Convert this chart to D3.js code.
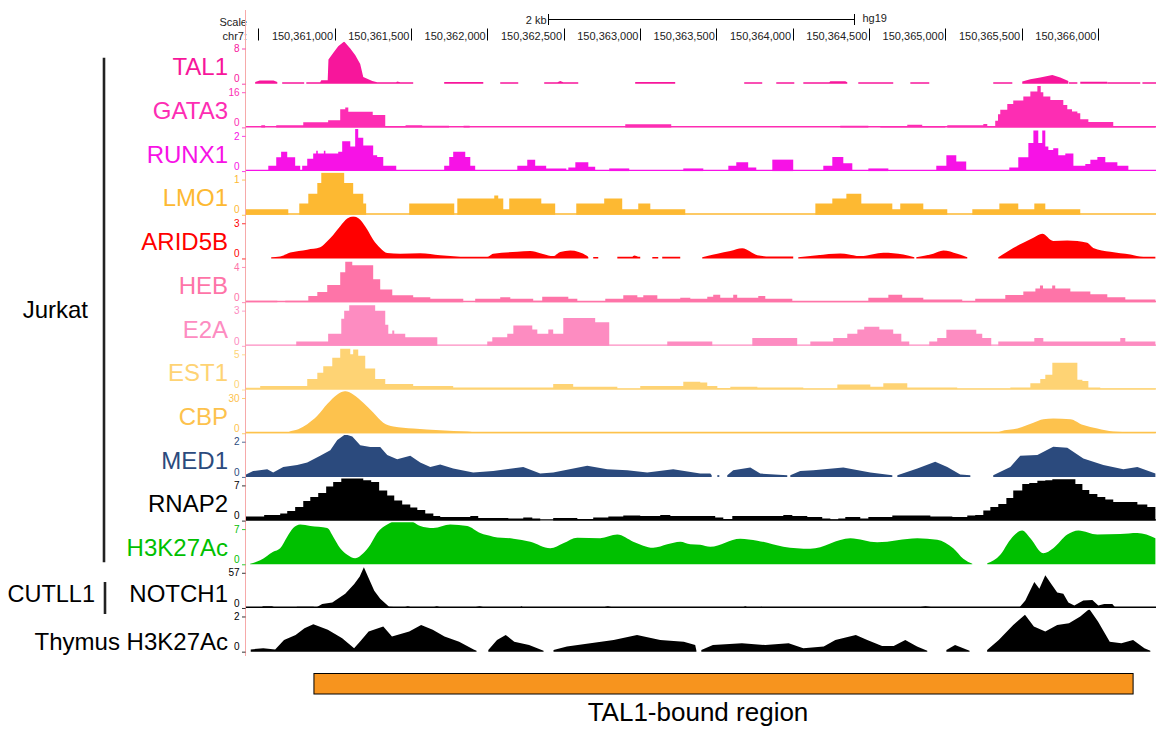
<!DOCTYPE html>
<html>
<head>
<meta charset="utf-8">
<script src="https://cdn.jsdelivr.net/npm/d3@7"></script>
<style>
  body { margin: 0; background: #fff; }
  svg { display: block; }
  text { font-family: "Liberation Sans", Arial, Helvetica, sans-serif; }
</style>
</head>
<body>
<svg id="chart" width="1160" height="731"></svg>
<script>
// ---- Genomic window (hg19, chr7) ----
const chrom = "chr7";
const assembly = "hg19";
const base = 150360000;                 // positions in the track arrays are offsets from here
const viewStart = 150360420, viewEnd = 150366380;
const rulerTicks = d3.range(150360500, 150366001, 500);
const scaleBar = [150362400, 150364400];
const scaleBarLabel = "2 kb";
const boundRegion = [150360865, 150366230];
const boundRegionLabel = "TAL1-bound region";

// ---- Track metadata ----
const trackNames = ["TAL1", "GATA3", "RUNX1", "LMO1", "ARID5B", "HEB", "E2A", "EST1", "CBP",
                    "MED1", "RNAP2", "H3K27Ac", "NOTCH1", "Thymus H3K27Ac"];
const trackColors = ["#f7169b", "#fd2db3", "#f712e6", "#fdb932", "#ff0000", "#fe74a8", "#fd8cc1",
                     "#fed374", "#fdc24d", "#2b4a7d", "#000000", "#00c000", "#000000", "#000000"];
const trackMax = [8, 16, 2, 1, 3, 4, 3, 5, 30, 2, 7, 7, 57, 2];
// how consecutive readings are joined: "step", "linear" or "smooth"
const trackShape = ["linear", "step", "step", "step", "smooth", "step", "step", "step", "smooth",
                    "linear", "step", "smooth", "linear", "linear"];
const trackBaseline = [false, true, true, true, false, true, true, true, true, false, true, false, true, false];
const cellLines = [
  { name: "Jurkat", first: 0, last: 11 },
  { name: "CUTLL1", first: 12, last: 12 }
];

// ---- Signal: segments of [offset bp, value] ----
const tal1Data = [
  [[480,0.4],[510,0.75],[600,0.75],[625,0.4]],
  [[657,0.35],[801,0.35]],
  [[815,0.35],[906,0.35],[913,0.8],[955,0.8],[960,5.5],[991,7],[1024,8.5],[1063,9.6],[1103,8],[1135,6.5],[1168,4.5],[1188,1.5],[1247,0.6],[1279,0.35],[1404,0.35],[1410,0.5],[1430,0.35],[1515,0.35]],
  [[1718,0.4],[1974,0.4]],
  [[2085,0.35],[2203,0.35]],
  [[2373,0.35],[2460,0.35],[2478,0.6],[2498,0.35],[2596,0.35]],
  [[2969,0.4],[3231,0.4]],
  [[3683,0.35],[3801,0.35]],
  [[3893,0.35],[4011,0.35]],
  [[4070,0.35],[4240,0.35],[4247,0.55],[4345,0.55],[4358,0.35]],
  [[4430,0.35],[4659,0.35]],
  [[4771,0.35],[4895,0.35]],
  [[5314,0.35],[5439,0.35]],
  [[5504,0.5],[5557,1.0],[5622,1.4],[5701,2.0],[5753,1.4],[5806,0.6]],
  [[5810,0.35],[5865,0.35]],
  [[5884,0.45],[6061,0.45]],
  [[6061,0.35],[6277,0.35]],
  [[6291,0.35],[6389,0.35]]
];
const gata3Data = [
  [[430,0],[520,1],[545,0],[618,1],[795,2.3],[958,3.3],[1037,8.2],[1070,9],[1090,7.1],[1250,5.6],[1332,0.5],[1465,1],[1574,0.7],[1750,0],[1845,0.7],[1885,0],[2904,1.4],[3205,0],[4312,0.8],[4496,0],[4574,0.5],[4751,1.2],[4849,0.5],[5000,0],[5013,1.0],[5249,1.5],[5275,0.5],[5327,3],[5345,6],[5360,8],[5406,10.6],[5445,12.2],[5511,14],[5557,16.3],[5603,18.8],[5625,16],[5642,14],[5688,12.5],[5773,10.2],[5799,8.2],[5830,7.2],[5865,6.4],[5884,3.7],[5937,2.4],[6100,0.3],[6376,0.3]]
];
const runx1Data = [
  [[566,0.3],[618,0.78],[650,1.1],[690,0.78],[742,0.3],[775,0],[788,0.3],[821,0.7],[860,1.0],[880,1.15],[890,1.0],[930,1.15],[940,1.0],[1024,1.1],[1050,1.7],[1103,1.4],[1135,2.4],[1155,1.9],[1188,1.45],[1253,0.9],[1279,0.8],[1319,0.3],[1404,0]],
  [[1718,0.3],[1751,0.8],[1777,1.1],[1856,0.8],[1889,0.3],[1921,0]],
  [[2197,0.3],[2262,0.65],[2314,0.3],[2386,0.15],[2518,0]],
  [[2531,0.2],[2577,0.5],[2662,0.25],[2707,0]],
  [[2799,0.15],[2930,0]],
  [[3284,0.15],[3415,0]],
  [[3579,0.3],[3631,0.5],[3709,0.2],[3762,0]],
  [[3867,0.65],[4004,0]],
  [[4201,0.3],[4260,0.8],[4332,0.45],[4391,0]],
  [[4496,0.15],[4627,0]],
  [[4941,0.3],[5007,0.9],[5072,0.55],[5137,0]],
  [[5419,0.2],[5478,0.78],[5544,1.6],[5577,2.3],[5609,1.6],[5635,2.3],[5655,1.4],[5675,1.2],[5707,1.3],[5740,0.9],[5786,1.0],[5839,0.3],[5917,0.4],[5950,0.65],[5996,0.8],[6048,0.5],[6127,0.3],[6199,0]]
];
const lmo1Data = [
  [[420,0.16],[697,0],[769,0.32],[828,0.6],[887,0.9],[913,1.2],[1063,0.9],[1122,0.6],[1188,0.32],[1207,0],[1489,0.32],[1784,0],[1804,0.46],[2046,0.55],[2072,0.46],[2105,0.16],[2144,0.46],[2354,0.32],[2445,0],[2583,0.32],[2766,0.46],[2884,0.16],[2989,0.32],[3068,0.16],[3297,0],[4149,0.32],[4260,0.46],[4352,0.6],[4450,0.32],[4653,0.16],[4705,0.32],[4856,0.16],[5013,0],[5177,0.16],[5354,0.32],[5478,0.16],[5583,0.32],[5655,0.16],[5884,0],[6376,0]]
];
const arid5bData = [
  [[585,0.1],[644,0.17],[710,0.5],[821,0.75],[906,0.95],[952,1.46],[991,2.0],[1037,2.74],[1083,3.4],[1122,3.6],[1168,3.3],[1214,2.46],[1253,1.6],[1299,0.9],[1345,0.46],[1430,0.4],[1561,0.45],[1692,0.28],[1869,0.14],[2000,0.14],[2039,0.4],[2197,0.57],[2282,0.63],[2347,0.45],[2432,0.2],[2478,0.54],[2544,0.68],[2655,0.2],[2662,0.1]],
  [[2694,0.12],[2727,0.12]],
  [[2852,0.15],[2950,0.15],[2963,0.25],[2990,0.15],[3002,0.15]],
  [[3081,0.12],[3120,0.12]],
  [[3146,0.15],[3264,0.15]],
  [[3408,0.1],[3507,0.4],[3592,0.63],[3670,0.86],[3769,0.28],[3854,0.17],[4004,0.17]],
  [[4037,0.1],[4162,0.28],[4312,0.43],[4443,0.2],[4594,0.49],[4725,0.34],[4797,0.1]],
  [[4810,0.1],[4921,0.4],[4987,0.68],[5078,0.4],[5144,0.1]],
  [[5347,0.1],[5445,0.9],[5511,1.34],[5577,1.77],[5635,2.1],[5707,1.49],[5799,1.54],[5930,1.34],[5969,0.9],[6081,0.57],[6212,0.34],[6297,0.14],[6376,0.14]]
];
const hebData = [
  [[420,0.15],[625,0],[677,0.15],[828,0.7],[887,1.15],[952,1.95],[1037,3.4],[1070,4.6],[1116,4.2],[1253,2.6],[1299,1.45],[1378,0.77],[1515,0.55],[1627,0.38],[1843,0],[1921,0.38],[2085,0.55],[2151,0.38],[2301,0.15],[2360,0.6],[2531,0.38],[2590,0.1],[2773,0.38],[2891,0.77],[2983,0.55],[3022,0.77],[3114,0.38],[3264,0.5],[3330,0.38],[3441,0.6],[3480,0.85],[3526,0.5],[3611,0.85],[3637,0.5],[3775,0.7],[3821,0.38],[3998,0.1],[4496,0.5],[4627,0.85],[4718,0.5],[4856,0.3],[5111,0.1],[5196,0.4],[5393,0.8],[5511,1.2],[5590,1.55],[5620,1.9],[5640,1.55],[5700,1.9],[5720,1.55],[5819,1.2],[5950,0.9],[6061,0.55],[6179,0.3],[6376,0.3]]
];
const e2aData = [
  [[420,0],[749,0.37],[958,1.03],[1044,2.3],[1063,3.0],[1096,3.45],[1266,3.0],[1332,1.8],[1352,1.03],[1378,1.3],[1391,1.03],[1463,0.74],[1673,0],[2000,0.37],[2033,0.74],[2131,1.03],[2171,1.74],[2295,1.4],[2328,1.03],[2400,1.4],[2432,1.03],[2498,2.37],[2707,2.0],[2799,0],[3179,0.37],[3474,0],[3736,0.66],[4030,0],[4116,0.37],[4266,0.66],[4358,1.03],[4424,1.4],[4469,1.63],[4568,1.4],[4659,1.03],[4712,0.37],[4764,0],[4895,0.37],[4947,0.66],[5007,1.37],[5203,1.03],[5242,0.66],[5301,0],[5347,0.37],[5583,0.66],[5642,0.37],[6146,0.66],[6179,0.37],[6376,0.37]]
];
const est1Data = [
  [[420,0.25],[513,0.5],[821,1.5],[887,2.4],[926,3.3],[985,4.5],[1037,5.8],[1103,5.0],[1122,5.7],[1155,4.8],[1201,3.0],[1266,1.5],[1332,0.8],[1515,0.5],[1777,0.3],[2432,0.8],[2563,0.4],[2852,0.1],[3002,0.5],[3284,1.1],[3395,1.0],[3441,0.5],[3507,0.2],[3592,0.4],[3769,0.3],[4070,0.1],[4293,0.7],[4509,0.4],[4594,0.9],[4751,0.3],[5078,0.1],[5426,0.3],[5557,0.9],[5622,1.5],[5655,2.1],[5701,3.8],[5865,1.4],[5898,1.2],[5937,0.3],[6015,0.15],[6376,0.15]]
];
const cbpData = [
  [[420,0.3],[697,0.3],[700,1],[762,3.4],[821,7.7],[887,14.8],[952,24.8],[1018,33],[1070,36],[1122,33],[1188,26],[1253,17.6],[1319,9],[1385,5.7],[1515,4],[1692,2.6],[1869,1.4],[1950,0.5],[5340,0.5],[5360,1.5],[5472,4],[5577,9],[5642,12],[5707,12.6],[5819,12],[5904,6.9],[5996,4],[6100,1.4],[6277,0.5],[6376,0.3]]
];
const med1Data = [
  [[420,0.14],[467,0.33],[559,0.44],[598,0.25],[664,0.57],[755,0.67],[821,0.82],[906,1.2],[972,1.52],[1018,2.1],[1070,2.42],[1116,2.3],[1168,1.8],[1234,1.7],[1299,1.7],[1345,1.24],[1410,1.01],[1496,1.2],[1561,0.82],[1627,0.57],[1692,0.7],[1777,0.48],[1908,0.25],[2039,0.33],[2236,0.57],[2347,0.19],[2432,0.25],[2655,0.63],[2786,0.44],[2917,0.38],[3048,0.25],[3218,0.44],[3395,0.19],[3461,0.19],[3470,0.1]],
  [[3507,0.1],[3520,0.1]],
  [[3572,0.1],[3611,0.38],[3723,0.53],[3788,0.19],[3965,0.1]],
  [[3985,0.1],[4050,0.33],[4136,0.38],[4332,0.53],[4509,0.25],[4653,0.1]],
  [[4686,0.1],[4817,0.48],[4934,0.86],[5013,0.57],[5098,0.14],[5164,0.1]],
  [[5314,0.1],[5426,0.57],[5491,1.2],[5603,1.24],[5707,1.71],[5799,1.66],[5904,1.05],[6035,0.67],[6166,0.44],[6258,0.57],[6376,0.19]]
];
const rnap2Data = [
  [[420,0.8],[539,1.1],[644,1.4],[690,1.9],[742,2.7],[795,3.9],[841,4.7],[893,5.5],[945,6.8],[991,7.7],[1044,8.7],[1188,8.0],[1240,7.7],[1292,6.0],[1345,5.0],[1391,4.0],[1443,3.2],[1496,2.6],[1542,2.1],[1594,1.4],[1647,0.9],[1692,0.7],[1889,0.9],[1941,0.5],[2138,0.4],[2236,0.6],[2295,0.4],[2347,0],[2432,0.5],[2590,0.3],[2694,0.6],[2793,0.8],[2891,1.0],[3002,0.9],[3133,1.1],[3199,0.9],[3493,0.6],[3546,0.3],[3605,0.9],[3939,1.1],[3998,0.9],[4096,0.7],[4194,0.4],[4247,0.2],[4299,0.4],[4345,0.7],[4443,0.4],[4496,0.7],[4653,1.0],[4902,0.8],[5046,0.7],[5144,1.0],[5196,1.1],[5249,2.0],[5295,2.7],[5347,3.3],[5400,4.5],[5445,6.0],[5504,7.3],[5550,7.5],[5603,7.9],[5655,8.0],[5701,8.2],[5852,7.3],[5898,6.1],[5943,5.3],[5996,4.7],[6048,4.2],[6100,3.7],[6258,3.2],[6323,2.7],[6376,2.7]]
];
const h3k27acData = [
  [[447,0.1],[513,0.8],[598,2.5],[644,3.2],[690,5.5],[729,7.2],[775,7.9],[841,7.6],[952,7.2],[991,5.5],[1037,3.2],[1083,1.9],[1135,1.2],[1188,2.2],[1234,3.9],[1279,6.2],[1345,7.9],[1410,8.7],[1496,8.6],[1561,7.6],[1647,7.2],[1758,7.9],[1869,7.6],[1954,6.2],[2039,5.5],[2171,5.1],[2282,4.5],[2413,3.2],[2498,4.2],[2590,5.3],[2740,5.2],[2852,5.9],[2956,4.5],[3087,3.3],[3179,4.0],[3264,4.5],[3330,4.0],[3395,3.9],[3461,3.5],[3657,5.1],[3769,4.7],[3939,3.5],[4116,3.1],[4378,5.2],[4554,4.4],[4817,5.2],[4947,4.9],[5052,3.2],[5118,1.1],[5177,0.1]],
  [[5275,0.2],[5360,1.9],[5426,4.9],[5504,6.7],[5557,5.2],[5642,2.2],[5707,3.2],[5799,5.9],[5872,6.7],[5996,5.9],[6146,6.0],[6258,6.2],[6376,5.2]]
];
const notch1Data = [
  [[450,0.5],[520,1],[533,3],[590,3],[611,0.8],[742,0.8],[755,2],[860,2],[880,0.8],[919,6.5],[985,9],[1070,23],[1129,39],[1165,51],[1192,66],[1220,50],[1260,28],[1299,15],[1357,2],[1450,0.8],[1480,3],[1509,0.8],[1640,0.8],[1670,3],[1699,0.8],[1908,0.8],[1950,3],[1987,0.8],[2210,0.8],[2225,3],[2236,0.8],[2753,0.8],[2790,3],[2825,0.8],[3670,0.8],[3690,3],[3709,0.8],[3775,0.8],[3795,2],[3815,0.8],[4817,0.8],[4870,3],[4928,0.8],[5485,0.8],[5524,12],[5583,42],[5616,31],[5655,53],[5694,39],[5733,25],[5773,23],[5806,9],[5845,4],[5904,12],[5963,13],[6002,4],[6041,6.5],[6094,6.5],[6113,0.8],[6376,0.5]]
];
const thymusData = [
  [[451,0.13],[533,0.19],[611,0.13],[669,0.67],[745,0.95],[803,1.33],[861,1.56],[956,1.24],[1050,0.76],[1128,0.19],[1166,0.57],[1223,1.14],[1319,1.43],[1376,0.86],[1489,1.14],[1567,1.52],[1643,1.24],[1720,0.86],[1816,0.57],[1911,0.13],[1930,0.05]],
  [[2007,0.1],[2064,0.67],[2121,0.95],[2177,0.57],[2274,0.38],[2369,0.05]],
  [[2434,0.1],[2522,0.29],[2675,0.48],[2828,0.67],[2981,0.95],[3133,0.67],[3287,0.57],[3362,0.38],[3370,0.05]],
  [[3402,0.1],[3478,0.38],[3668,0.48],[3821,0.38],[3974,0.48],[4070,0.19],[4204,0.29],[4280,0.67],[4414,0.95],[4489,0.67],[4586,0.32],[4662,0.32],[4738,0.67],[4815,0.29],[4882,0.05]],
  [[5007,0.1],[5064,0.38],[5159,0.05]],
  [[5274,0.1],[5350,0.67],[5445,1.52],[5522,2.1],[5580,1.43],[5655,1.14],[5733,1.52],[5810,1.62],[5884,2.0],[5943,2.42],[6000,1.71],[6077,0.57],[6153,0.48],[6230,0.67],[6304,0.19],[6343,0.05]]
];
const trackData = [tal1Data, gata3Data, runx1Data, lmo1Data, arid5bData, hebData, e2aData,
                   est1Data, cbpData, med1Data, rnap2Data, h3k27acData, notch1Data, thymusData];

// ---- Layout ----
const plotLeft = 246, plotRight = 1156;
const axisX = 245.5;
const firstZero = 83.7, trackPitch = 43.69, dataH = 35.2, clipH = 42;
const labelX = 228;
const labelShift = [0,0,0,0,0,0,0,0,0,0,0,0,2.7,6.6];
const curves = { step: d3.curveStepAfter, linear: d3.curveLinear, smooth: d3.curveMonotoneX };

const svg = d3.select("#chart");
const defs = svg.append("defs");
const x = d3.scaleLinear().domain([viewStart, viewEnd]).range([plotLeft, plotRight]);
const zeroY = i => firstZero + i * trackPitch;

// ---- Base position ruler ----
const ruler = svg.append("g").attr("font-size", 11).attr("fill", "#222");
ruler.append("text").attr("x", 247).attr("y", 25.5).attr("text-anchor", "end").text("Scale");
ruler.append("text").attr("x", 247).attr("y", 39.5).attr("text-anchor", "end").text(chrom + ":");
ruler.selectAll("line.tick").data(rulerTicks).join("line")
  .attr("class", "tick")
  .attr("x1", d => Math.round(x(d)) + 0.5).attr("x2", d => Math.round(x(d)) + 0.5)
  .attr("y1", 28.5).attr("y2", 40.5)
  .attr("stroke", "#000").attr("stroke-width", 1);
ruler.selectAll("text.tick").data(rulerTicks.slice(1)).join("text")
  .attr("class", "tick")
  .attr("x", d => x(d) - 1.5).attr("y", 39.5).attr("text-anchor", "end")
  .text(d => d3.format(",")(d));

const sb0 = Math.round(x(scaleBar[0])) + 0.5, sb1 = Math.round(x(scaleBar[1])) + 0.5;
ruler.append("line").attr("x1", sb0).attr("x2", sb1).attr("y1", 19.5).attr("y2", 19.5)
  .attr("stroke", "#000").attr("stroke-width", 1);
[sb0, sb1].forEach(px => ruler.append("line").attr("x1", px).attr("x2", px)
  .attr("y1", 14).attr("y2", 25).attr("stroke", "#000").attr("stroke-width", 1));
ruler.append("text").attr("x", sb0 - 2).attr("y", 24).attr("text-anchor", "end").text(scaleBarLabel);
ruler.append("text").attr("x", sb1 + 8).attr("y", 21.5).text(assembly);

// vertical guide at the left edge of the data area
svg.append("line").attr("x1", axisX).attr("x2", axisX).attr("y1", 10).attr("y2", 656)
  .attr("stroke", "#f6a9a9").attr("stroke-width", 1);

// ---- Signal tracks ----
trackNames.forEach((name, i) => {
  const zero = zeroY(i);
  const color = trackColors[i];
  const y = d3.scaleLinear().domain([0, trackMax[i]]).range([zero, zero - dataH]);

  defs.append("clipPath").attr("id", "clip" + i)
    .append("rect").attr("x", plotLeft).attr("y", zero - clipH)
    .attr("width", plotRight - plotLeft).attr("height", clipH + 1);

  const g = svg.append("g").attr("clip-path", `url(#clip${i})`);

  if (trackBaseline[i]) {
    g.append("line").attr("x1", plotLeft).attr("x2", plotRight)
      .attr("y1", zero - 0.7).attr("y2", zero - 0.7)
      .attr("stroke", color).attr("stroke-width", 1.4);
  }

  const area = d3.area()
    .x(d => x(base + d[0]))
    .y0(zero)
    .y1(d => y(d[1]))
    .curve(curves[trackShape[i]]);

  g.selectAll("path.sig").data(trackData[i]).join("path")
    .attr("class", "sig")
    .attr("d", area)
    .attr("fill", color);

  // data range ticks
  const axis = d3.axisLeft(y).tickValues([0, trackMax[i]]).tickSize(3.5).tickPadding(2.5)
    .tickFormat(d3.format("d"));
  const ag = svg.append("g").attr("transform", `translate(${axisX},0)`).call(axis);
  ag.select(".domain").remove();
  ag.selectAll(".tick line").attr("stroke", color).attr("opacity", 0.8);
  ag.selectAll(".tick text").attr("fill", color).attr("font-size", 10)
    .attr("font-family", "'Liberation Sans', Arial, sans-serif")
    .attr("dy", d => d === 0 ? "-0.18em" : "0.32em");

  // track name
  svg.append("text")
    .attr("x", labelX).attr("y", zero - 8.3 + labelShift[i])
    .attr("text-anchor", "end").attr("font-size", 24)
    .attr("fill", color).text(name);
});

// ---- Cell line brackets ----
const bracket = svg.append("g");
cellLines.forEach((c, k) => {
  const top = zeroY(c.first) - 26, bottom = zeroY(c.last) + 1 + (k === 1 ? 5 : -3);
  const bx = k === 0 ? 104 : 105;
  bracket.append("line").attr("x1", bx).attr("x2", bx).attr("y1", top).attr("y2", bottom)
    .attr("stroke", "#222").attr("stroke-width", 2.6);
  const baseY = k === 0 ? 317.5 : 602;
  bracket.append("text").attr("x", k === 0 ? 88 : 95).attr("y", baseY)
    .attr("text-anchor", "end").attr("font-size", k === 0 ? 24 : 23.5)
    .attr("fill", "#000").text(c.name);
});

// ---- Bound region bar ----
svg.append("rect")
  .attr("x", x(boundRegion[0])).attr("y", 673.5)
  .attr("width", x(boundRegion[1]) - x(boundRegion[0])).attr("height", 20.5)
  .attr("fill", "#f7941e").attr("stroke", "#000").attr("stroke-width", 1);
svg.append("text").attr("x", 698).attr("y", 721).attr("text-anchor", "middle")
  .attr("font-size", 26).attr("fill", "#000").text(boundRegionLabel);
</script>
</body>
</html>
